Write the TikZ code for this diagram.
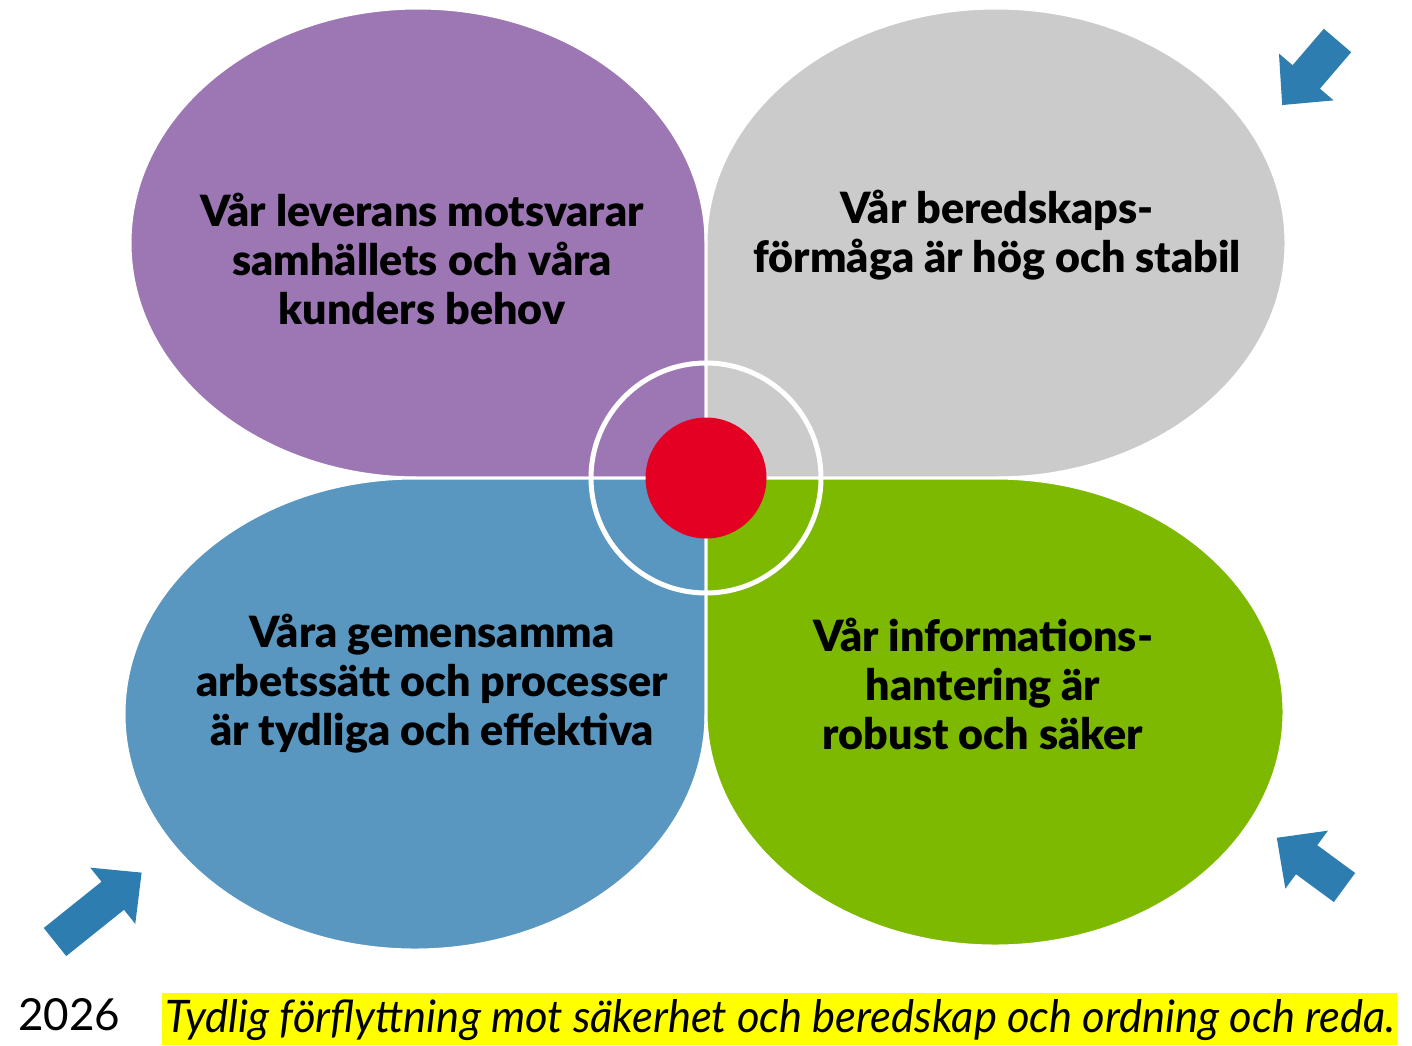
\documentclass[tikz,border=0pt]{standalone}
\usepackage{fontspec}
\setmainfont{Lato}
\newfontfamily\heavyfont{Lato Black}
\definecolor{petalpurple}{RGB}{157,119,180}
\definecolor{petalgray}{RGB}{203,203,203}
\definecolor{petalblue}{RGB}{89,151,192}
\definecolor{petalgreen}{RGB}{124,185,0}
\definecolor{centerred}{RGB}{227,0,34}
\definecolor{arrowblue}{RGB}{46,125,176}
\definecolor{banneryellow}{RGB}{255,255,0}
\newcommand\blockarr[4]{\fill[arrowblue,shift={(#1,#2)},rotate=#3] (0,-18) -- (#4,-18) -- (#4,-36) -- ({#4+37},0) -- (#4,36) -- (#4,18) -- (0,18) -- cycle;}
\begin{document}
\begin{tikzpicture}[x=1pt,y=-1pt,
  petal/.style={draw=white,line width=3pt},
  petaltext/.style={align=center,font=\fontsize{43}{49}\selectfont\heavyfont,text=black,inner sep=0pt}]
\useasboundingbox[fill=white] (0,0) rectangle (1412,1045);
% petals
\filldraw[petal,fill=petalpurple] (706,243) arc[start angle=0,end angle=-270,x radius=288,y radius=235] -- (706,478) -- cycle;
\filldraw[petal,fill=petalgray] (996,478) arc[start angle=90,end angle=-180,x radius=290,y radius=235] -- (706,478) -- cycle;
\filldraw[petal,fill=petalblue] (415,478) arc[start angle=-90,end angle=-360,x radius=291,y radius=236] -- (706,478) -- cycle;
\filldraw[petal,fill=petalgreen] (995,478) arc[start angle=-90,end angle=180,x radius=289,y radius=234] -- (706,478) -- cycle;
% centre
\node[circle,draw=white,line width=5pt,minimum size=230pt,inner sep=0pt] (ring) at (706,478) {};
\node[circle,fill=centerred,minimum size=121pt,inner sep=0pt] (core) at (706,478) {};
% texts
\node[petaltext] (t1) at (422,259) {Vår leverans motsvarar\\samhällets och våra\\kunders behov};
\node[petaltext] (t2) at (997,235) {Vår beredskaps-\\förmåga är hög och stabil};
\node[petaltext] (t3) at (432,684) {Våra gemensamma\\arbetssätt och processer\\är tydliga och effektiva};
\node[petaltext] (t4) at (983,684) {Vår informations-\\hantering är\\robust och säker};
% arrows
\blockarr{1337.5}{40.5}{229.4}{48}
\blockarr{55}{942}{38.7}{74}
\blockarr{1344.5}{887.5}{143.7}{47}
% bottom line
\node[fill=banneryellow,minimum width=1235pt,minimum height=52pt,anchor=north west,inner sep=0pt] (banner) at (162,993) {};
\node[anchor=base west,inner sep=0pt] (motto) at (165,1032) {\resizebox{1230pt}{33pt}{\itshape Tydlig förflyttning mot säkerhet och beredskap och ordning och reda.}};
\node[anchor=base west,inner sep=0pt] (year) at (18,1030) {\resizebox{102pt}{32pt}{2026}};
\end{tikzpicture}
\end{document}
